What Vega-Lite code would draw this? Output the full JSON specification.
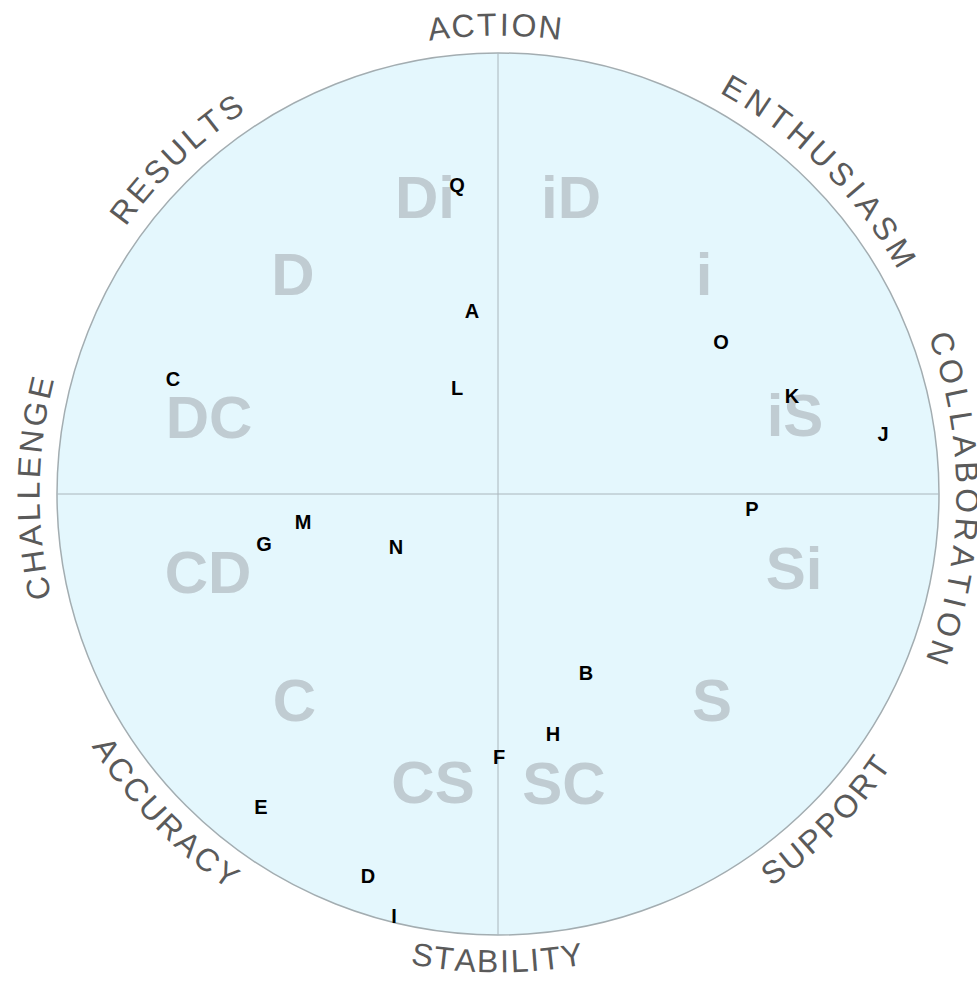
{
  "$schema": "https://vega.github.io/schema/vega-lite/v6.json",
  "width": 960,
  "height": 960,
  "autosize": {"type": "none"},
  "padding": {"left": 18, "top": 14, "right": 0, "bottom": 7},
  "background": "#ffffff",
  "config": {"view": {"stroke": null}},
  "datasets": {
    "disc": [{"x": 0, "y": 0}],
    "axes": [
      {"x": 0, "y": -1, "x2": 0, "y2": 1},
      {"x": -1, "y": 0, "x2": 1, "y2": 0}
    ],
    "regions": [
      {"label": "Di", "x": -0.1655, "y": 0.6757},
      {"label": "iD", "x": 0.1655, "y": 0.6757},
      {"label": "D", "x": -0.4649, "y": 0.5011},
      {"label": "i", "x": 0.4671, "y": 0.5011},
      {"label": "DC", "x": -0.6553, "y": 0.1769},
      {"label": "iS", "x": 0.6735, "y": 0.1814},
      {"label": "CD", "x": -0.6576, "y": -0.1746},
      {"label": "Si", "x": 0.6712, "y": -0.1655},
      {"label": "C", "x": -0.4615, "y": -0.4649},
      {"label": "S", "x": 0.4853, "y": -0.4649},
      {"label": "CS", "x": -0.1474, "y": -0.6508},
      {"label": "SC", "x": 0.1497, "y": -0.6531}
    ],
    "people": [
      {"name": "Q", "x": -0.093, "y": 0.7007},
      {"name": "A", "x": -0.059, "y": 0.415},
      {"name": "C", "x": -0.737, "y": 0.2608},
      {"name": "L", "x": -0.093, "y": 0.2404},
      {"name": "O", "x": 0.5057, "y": 0.3447},
      {"name": "K", "x": 0.6667, "y": 0.2222},
      {"name": "J", "x": 0.873, "y": 0.1361},
      {"name": "P", "x": 0.576, "y": -0.034},
      {"name": "M", "x": -0.4422, "y": -0.0635},
      {"name": "G", "x": -0.5306, "y": -0.1134},
      {"name": "N", "x": -0.2313, "y": -0.1202},
      {"name": "B", "x": 0.1995, "y": -0.4059},
      {"name": "H", "x": 0.1247, "y": -0.5442},
      {"name": "F", "x": 0.0023, "y": -0.5964},
      {"name": "E", "x": -0.5374, "y": -0.7098},
      {"name": "D", "x": -0.2948, "y": -0.8662},
      {"name": "I", "x": -0.2358, "y": -0.9569}
    ],
    "topWords": [
      {"word": "ACTION", "ch": "A", "th": -7.3},
      {"word": "ACTION", "ch": "C", "th": -4.28},
      {"word": "ACTION", "ch": "T", "th": -1.37},
      {"word": "ACTION", "ch": "I", "th": 0.76},
      {"word": "ACTION", "ch": "O", "th": 3.19},
      {"word": "ACTION", "ch": "N", "th": 6.4},
      {"word": "RESULTS", "ch": "R", "th": 307.1},
      {"word": "RESULTS", "ch": "E", "th": 310.28},
      {"word": "RESULTS", "ch": "S", "th": 313.36},
      {"word": "RESULTS", "ch": "U", "th": 316.54},
      {"word": "RESULTS", "ch": "L", "th": 319.53},
      {"word": "RESULTS", "ch": "T", "th": 322.32},
      {"word": "RESULTS", "ch": "S", "th": 325.3},
      {"word": "ENTHUSIASM", "ch": "E", "th": 30.2},
      {"word": "ENTHUSIASM", "ch": "N", "th": 33.59},
      {"word": "ENTHUSIASM", "ch": "T", "th": 36.87},
      {"word": "ENTHUSIASM", "ch": "H", "th": 40.16},
      {"word": "ENTHUSIASM", "ch": "U", "th": 43.64},
      {"word": "ENTHUSIASM", "ch": "S", "th": 47.03},
      {"word": "ENTHUSIASM", "ch": "I", "th": 49.63},
      {"word": "ENTHUSIASM", "ch": "A", "th": 52.23},
      {"word": "ENTHUSIASM", "ch": "S", "th": 55.52},
      {"word": "ENTHUSIASM", "ch": "M", "th": 59.1},
      {"word": "COLLABORATION", "ch": "C", "th": 71.3},
      {"word": "COLLABORATION", "ch": "O", "th": 74.86},
      {"word": "COLLABORATION", "ch": "L", "th": 78.13},
      {"word": "COLLABORATION", "ch": "L", "th": 81.0},
      {"word": "COLLABORATION", "ch": "A", "th": 84.07},
      {"word": "COLLABORATION", "ch": "B", "th": 87.33},
      {"word": "COLLABORATION", "ch": "O", "th": 90.8},
      {"word": "COLLABORATION", "ch": "R", "th": 94.36},
      {"word": "COLLABORATION", "ch": "A", "th": 97.72},
      {"word": "COLLABORATION", "ch": "T", "th": 100.89},
      {"word": "COLLABORATION", "ch": "I", "th": 103.37},
      {"word": "COLLABORATION", "ch": "O", "th": 106.14},
      {"word": "COLLABORATION", "ch": "N", "th": 109.7},
      {"word": "CHALLENGE", "ch": "C", "th": 258.4},
      {"word": "CHALLENGE", "ch": "H", "th": 261.67},
      {"word": "CHALLENGE", "ch": "A", "th": 264.84},
      {"word": "CHALLENGE", "ch": "L", "th": 267.72},
      {"word": "CHALLENGE", "ch": "L", "th": 270.41},
      {"word": "CHALLENGE", "ch": "E", "th": 273.28},
      {"word": "CHALLENGE", "ch": "N", "th": 276.46},
      {"word": "CHALLENGE", "ch": "G", "th": 279.83},
      {"word": "CHALLENGE", "ch": "E", "th": 283.1}
    ],
    "bottomWords": [
      {"word": "STABILITY", "ch": "S", "th": 189.3},
      {"word": "STABILITY", "ch": "T", "th": 186.66},
      {"word": "STABILITY", "ch": "A", "th": 184.01},
      {"word": "STABILITY", "ch": "B", "th": 181.27},
      {"word": "STABILITY", "ch": "I", "th": 179.21},
      {"word": "STABILITY", "ch": "L", "th": 177.36},
      {"word": "STABILITY", "ch": "I", "th": 175.5},
      {"word": "STABILITY", "ch": "T", "th": 173.54},
      {"word": "STABILITY", "ch": "Y", "th": 170.9},
      {"word": "ACCURACY", "ch": "A", "th": 236.9},
      {"word": "ACCURACY", "ch": "C", "th": 233.88},
      {"word": "ACCURACY", "ch": "C", "th": 230.77},
      {"word": "ACCURACY", "ch": "U", "th": 227.66},
      {"word": "ACCURACY", "ch": "R", "th": 224.55},
      {"word": "ACCURACY", "ch": "A", "th": 221.53},
      {"word": "ACCURACY", "ch": "C", "th": 218.52},
      {"word": "ACCURACY", "ch": "Y", "th": 215.5},
      {"word": "SUPPORT", "ch": "S", "th": 143.9},
      {"word": "SUPPORT", "ch": "U", "th": 140.9},
      {"word": "SUPPORT", "ch": "P", "th": 137.9},
      {"word": "SUPPORT", "ch": "P", "th": 135.0},
      {"word": "SUPPORT", "ch": "O", "th": 131.9},
      {"word": "SUPPORT", "ch": "R", "th": 128.7},
      {"word": "SUPPORT", "ch": "T", "th": 125.8}
    ]
  },
  "layer": [
    {
      "data": {"name": "disc"},
      "mark": {"type": "point", "shape": "circle", "filled": true, "fill": "#e4f7fd", "fillOpacity": 1, "stroke": "#a3adb1", "strokeOpacity": 1, "strokeWidth": 1.5, "size": 777924, "opacity": 1},
      "encoding": {
        "x": {"field": "x", "type": "quantitative", "axis": null, "scale": {"domain": [-1, 1], "range": [39, 921]}},
        "y": {"field": "y", "type": "quantitative", "axis": null, "scale": {"domain": [-1, 1], "range": [921, 39]}}
      }
    },
    {
      "data": {"name": "axes"},
      "mark": {"type": "rule", "color": "#aab6bc", "strokeWidth": 1},
      "encoding": {
        "x": {"field": "x", "type": "quantitative", "axis": null, "scale": {"domain": [-1, 1], "range": [39, 921]}},
        "y": {"field": "y", "type": "quantitative", "axis": null, "scale": {"domain": [-1, 1], "range": [921, 39]}},
        "x2": {"field": "x2"},
        "y2": {"field": "y2"}
      }
    },
    {
      "data": {"name": "regions"},
      "mark": {"type": "text", "font": "Liberation Sans", "fontWeight": "bold", "fontSize": 60, "color": "#c0ccd2", "align": "center", "baseline": "middle", "dy": 4},
      "encoding": {
        "x": {"field": "x", "type": "quantitative", "axis": null, "scale": {"domain": [-1, 1], "range": [39, 921]}},
        "y": {"field": "y", "type": "quantitative", "axis": null, "scale": {"domain": [-1, 1], "range": [921, 39]}},
        "text": {"field": "label"}
      }
    },
    {
      "data": {"name": "people"},
      "mark": {"type": "text", "font": "Liberation Sans", "fontWeight": "bold", "fontSize": 20, "color": "#000000", "align": "center", "baseline": "middle", "dy": 1},
      "encoding": {
        "x": {"field": "x", "type": "quantitative", "axis": null, "scale": {"domain": [-1, 1], "range": [39, 921]}},
        "y": {"field": "y", "type": "quantitative", "axis": null, "scale": {"domain": [-1, 1], "range": [921, 39]}},
        "text": {"field": "name"}
      }
    },
    {
      "data": {"name": "topWords"},
      "mark": {"type": "text", "font": "Liberation Sans", "fontSize": 32, "color": "#5a5a5a", "align": "center", "baseline": "middle"},
      "encoding": {
        "theta": {"field": "th", "type": "quantitative", "stack": null, "scale": {"type": "linear", "domain": [0, 360], "range": [0, 6.283185307179586]}},
        "radius": {"datum": 1.062, "type": "quantitative", "scale": {"type": "linear", "domain": [0, 1], "range": [0, 441]}},
        "angle": {"field": "th", "type": "quantitative", "legend": null, "scale": {"type": "linear", "domain": [0, 360], "range": [0, 360]}},
        "text": {"field": "ch"}
      }
    },
    {
      "data": {"name": "bottomWords"},
      "mark": {"type": "text", "font": "Liberation Sans", "fontSize": 32, "color": "#5a5a5a", "align": "center", "baseline": "middle"},
      "encoding": {
        "theta": {"field": "th", "type": "quantitative", "stack": null, "scale": {"type": "linear", "domain": [0, 360], "range": [0, 6.283185307179586]}},
        "radius": {"datum": 1.062, "type": "quantitative", "scale": {"type": "linear", "domain": [0, 1], "range": [0, 441]}},
        "angle": {"field": "th", "type": "quantitative", "legend": null, "scale": {"type": "linear", "domain": [0, 360], "range": [180, 540]}},
        "text": {"field": "ch"}
      }
    }
  ],
  "resolve": {"scale": {"angle": "independent"}}
}
